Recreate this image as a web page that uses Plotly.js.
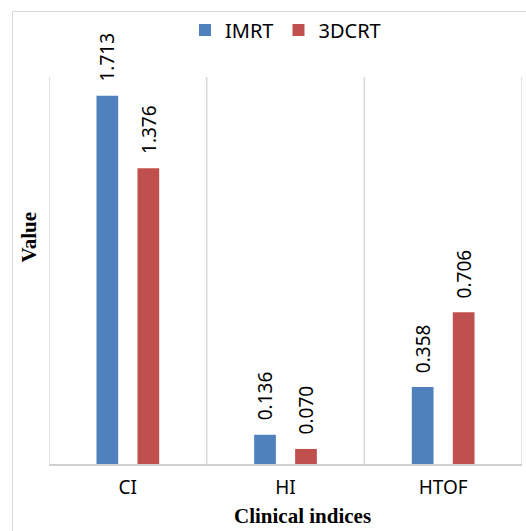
<!DOCTYPE html>
<html>
<head>
<meta charset="utf-8">
<script src="https://cdn.plot.ly/plotly-3.0.1.min.js"></script>
<style>
  html, body { margin: 0; padding: 0; background: #fff; overflow: hidden; }
  #chart { position: absolute; left: 0; top: 0; width: 526px; height: 531px; }
  #frame { position: absolute; left: 12px; top: 11px; width: 600px; height: 600px;
           border: 1px solid #d9d9d9; pointer-events: none; box-sizing: border-box; }
</style>
</head>
<body>
<div id="chart"></div>
<div id="frame"></div>
<script>
// Clinical indices compared between the two planning techniques
const categories = ['CI', 'HI', 'HTOF'];
const imrtValues = [1.713, 0.136, 0.358];
const dcrtValues = [1.376, 0.070, 0.706];
const seriesNames = ['IMRT', '3DCRT'];

const blue = '#4f81bd';
const red = '#c0504d';
const sans = 'Noto Sans, Open Sans, sans-serif';
const serif = 'Liberation Serif, Times New Roman, serif';
const labelFont = { family: sans, size: 19, color: '#000' };
const captionFont = { family: serif, size: 21, color: '#000' };

const traces = [
  { type: 'bar', name: seriesNames[0], x: categories, y: imrtValues, marker: { color: blue }, hoverinfo: 'none' },
  { type: 'bar', name: seriesNames[1], x: categories, y: dcrtValues, marker: { color: red }, hoverinfo: 'none' }
];

// Rotated value labels above each bar, placed from the same values
const offset = 20.5;
const annotations = [];
[imrtValues, dcrtValues].forEach((vals, s) => {
  vals.forEach((v, i) => {
    annotations.push({
      x: categories[i], y: v, xref: 'x', yref: 'y',
      text: v.toFixed(3), showarrow: false, textangle: -90,
      xanchor: 'center', yanchor: 'bottom',
      xshift: s === 0 ? -offset : offset, yshift: 12,
      font: labelFont
    });
  });
});

// Plot area geometry in pixels
const mL = 48.5, mR = 4.3, mT = 77, mB = 67;
const plotW = 526 - mL - mR, plotH = 531 - mT - mB;
const px = x => (x - mL) / plotW;
const py = y => (531 - mB - y) / plotH;

// Axis captions
annotations.push({
  x: px(302), y: py(516), xref: 'paper', yref: 'paper',
  xanchor: 'center', yanchor: 'middle',
  text: '<b>Clinical indices</b>', showarrow: false, font: captionFont
});
annotations.push({
  x: px(28), y: py(237), xref: 'paper', yref: 'paper',
  xanchor: 'center', yanchor: 'middle', textangle: -90,
  text: '<b>Value</b>', showarrow: false, font: captionFont
});

// Vertical separators at the category boundaries
const shapes = [-0.5, 0.5, 1.5, 2.5].map(b => ({
  type: 'line', xref: 'x', yref: 'paper', x0: b, x1: b, y0: 0, y1: 1,
  line: { color: '#d9d9d9', width: 1.5 }, layer: 'below'
}));

const layout = {
  width: 526, height: 531,
  margin: { l: mL, r: mR, t: mT, b: mB },
  paper_bgcolor: '#fff', plot_bgcolor: '#fff',
  barmode: 'group', bargap: 0.48, bargroupgap: 0.47,
  showlegend: true,
  legend: {
    orientation: 'h', x: 0.5, xanchor: 'center', xref: 'paper',
    y: 1 - 30 / 531, yanchor: 'middle', yref: 'container',
    font: { family: sans, size: 20, color: '#000' },
    itemwidth: 30
  },
  xaxis: {
    type: 'category', range: [-0.5, 2.5],
    showgrid: false,
    showline: true, linecolor: '#d0d0d0', linewidth: 2,
    ticks: 'outside', ticklen: 5, tickcolor: 'rgba(0,0,0,0)',
    tickfont: labelFont, fixedrange: true
  },
  yaxis: {
    range: [0, 1.8], showgrid: false, zeroline: false, showticklabels: false,
    ticks: '', showline: false, fixedrange: true
  },
  shapes: shapes,
  annotations: annotations
};

Plotly.newPlot('chart', traces, layout, { displayModeBar: false, staticPlot: true });
</script>
</body>
</html>
